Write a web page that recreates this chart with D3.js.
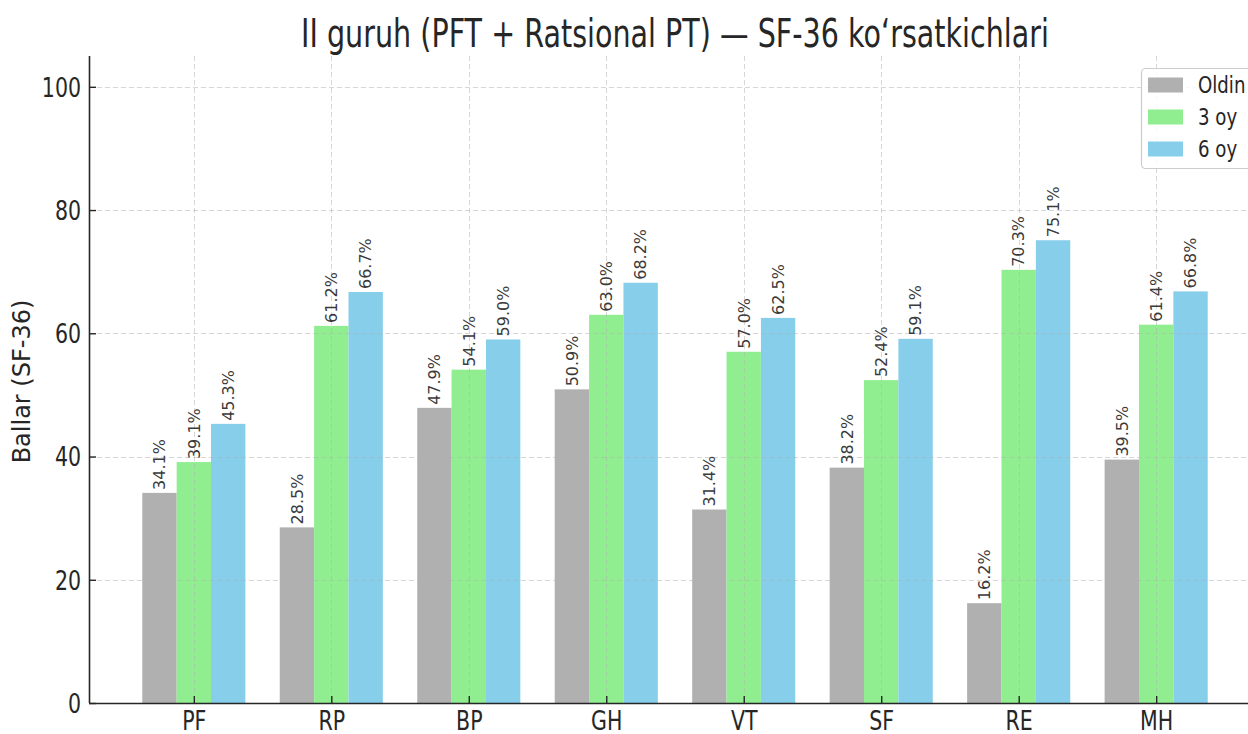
<!DOCTYPE html>
<html>
<head>
<meta charset="utf-8">
<script src="https://cdn.jsdelivr.net/npm/d3@7"></script>
<style>
  html, body { margin: 0; padding: 0; background: #fff; }
  svg { display: block; }
  text { font-family: "DejaVu Sans", sans-serif; }
</style>
</head>
<body>
<svg id="chart" width="1248" height="734"></svg>
<script>
const categories = ["PF", "RP", "BP", "GH", "VT", "SF", "RE", "MH"];
const seriesNames = ["Oldin", "3 oy", "6 oy"];
const oldin = [34.1, 28.5, 47.9, 50.9, 31.4, 38.2, 16.2, 39.5];
const oy3   = [39.1, 61.2, 54.1, 63.0, 57.0, 52.4, 70.3, 61.4];
const oy6   = [45.3, 66.7, 59.0, 68.2, 62.5, 59.1, 75.1, 66.8];
const yTicks = [0, 20, 40, 60, 80, 100];
const titleText = "II guruh (PFT + Ratsional PT) \u2014 SF-36 ko\u2018rsatkichlari";
const yLabel = "Ballar (SF-36)";

(function () {
const colors = ["#b0b0b0", "#90ee90", "#87ceeb"];
const seriesValues = [oldin, oy3, oy6];
const barW = 0.25;
const squeeze = 0.79;

const svg = d3.select("#chart");
const W = 1248;
const pLeft = 89, pRight = 1261, pTop = 56, pBottom = 703;

const x = d3.scaleLinear().domain([-0.7625, 7.7625]).range([pLeft, pRight]);
const y = d3.scaleLinear().domain([0, 105]).range([pBottom, pTop]);

const data = [];
seriesValues.forEach((vals, k) => {
  vals.forEach((v, i) => data.push({ i, k, v }));
});

// bars
svg.append("g").selectAll("rect").data(data).enter().append("rect")
  .attr("x", d => x(d.i + (d.k - 1) * barW - barW / 2))
  .attr("width", d => x(barW) - x(0))
  .attr("y", d => y(d.v))
  .attr("height", d => y(0) - y(d.v))
  .attr("fill", d => colors[d.k]);

// grid (drawn above bars, faint)
const gGrid = svg.append("g").attr("stroke", "#b0b0b0").attr("stroke-opacity", 0.5)
  .attr("stroke-width", 1).attr("stroke-dasharray", "5,3").attr("fill", "none");
gGrid.selectAll("line.h").data(yTicks).enter().append("line").attr("class", "h")
  .attr("x1", pLeft).attr("x2", W)
  .attr("y1", d => Math.round(y(d)) + 0.5).attr("y2", d => Math.round(y(d)) + 0.5);
gGrid.selectAll("line.v").data(categories).enter().append("line").attr("class", "v")
  .attr("y1", pTop).attr("y2", pBottom)
  .attr("x1", (d, i) => Math.round(x(i)) + 0.5).attr("x2", (d, i) => Math.round(x(i)) + 0.5);

// value labels
svg.append("g").selectAll("text").data(data).enter().append("text")
  .attr("transform", d => `translate(${x(d.i + (d.k - 1) * barW)},${y(d.v) - 3}) rotate(-90)`)
  .attr("dy", "0.36em")
  .attr("text-anchor", "start")
  .attr("font-size", 16)
  .attr("fill", "#3a3a3a")
  .text(d => d.v.toFixed(1) + "%");

// axes
const yAxis = d3.axisLeft(y).tickValues(yTicks).tickSizeInner(-7).tickSizeOuter(0).tickPadding(8);
const gy = svg.append("g").attr("transform", `translate(${pLeft},0)`).call(yAxis);
gy.select(".domain").attr("stroke", "#262626").attr("stroke-width", 1.6)
  .attr("d", `M0.5,${pTop}V${pBottom}`);
gy.selectAll(".tick line").attr("stroke", "#262626").attr("stroke-width", 1.4);
gy.selectAll(".tick text").attr("font-size", 26).attr("fill", "#262626")
  .attr("font-family", "DejaVu Sans")
  .attr("x", -8 / squeeze).attr("dy", "0.36em")
  .attr("transform", `scale(${squeeze},1)`);

const xAxis = d3.axisBottom(x).tickValues(d3.range(categories.length))
  .tickFormat(i => categories[i]).tickSizeInner(-7).tickSizeOuter(0).tickPadding(8);
const gx = svg.append("g").attr("transform", `translate(0,${pBottom})`).call(xAxis);
gx.select(".domain").attr("stroke", "#262626").attr("stroke-width", 1.6)
  .attr("d", `M${pLeft},0.5H${W}`);
gx.selectAll(".tick line").attr("stroke", "#262626").attr("stroke-width", 1.4);
gx.selectAll(".tick text").attr("font-size", 26).attr("fill", "#262626")
  .attr("font-family", "DejaVu Sans")
  .attr("y", 7).attr("dy", "0.76em")
  .attr("transform", `scale(${squeeze},1)`);

// y label
svg.append("text")
  .attr("transform", `translate(30,${(pTop + pBottom) / 2 + 2}) rotate(-90)`)
  .attr("text-anchor", "middle")
  .attr("font-size", 24)
  .attr("fill", "#262626")
  .text(yLabel);

// title
const title = svg.append("text")
  .attr("x", 0).attr("y", 0)
  .attr("text-anchor", "middle")
  .attr("font-size", 39)
  .attr("fill", "#262626")
  .text(titleText);
const tw = title.node().getComputedTextLength();
const tScale = 748 / tw;
title.attr("transform", `translate(${(pLeft + pRight) / 2},47) scale(${tScale},1)`);

// legend
const lg = svg.append("g");
lg.append("rect").attr("x", 1141.5).attr("y", 68.5).attr("width", 130).attr("height", 100)
  .attr("rx", 4).attr("fill", "#fff").attr("fill-opacity", 0.85)
  .attr("stroke", "#cccccc").attr("stroke-width", 1.2);
seriesNames.forEach((name, k) => {
  const yy = 77.5 + k * 32;
  lg.append("rect").attr("x", 1148).attr("y", yy).attr("width", 35).attr("height", 15)
    .attr("fill", colors[k]);
  lg.append("text")
    .attr("transform", `translate(1198,${yy + 7.5}) scale(${squeeze},1)`)
    .attr("dy", "0.36em")
    .attr("font-size", 23)
    .attr("fill", "#262626")
    .text(name);
});
})();
</script>
</body>
</html>
